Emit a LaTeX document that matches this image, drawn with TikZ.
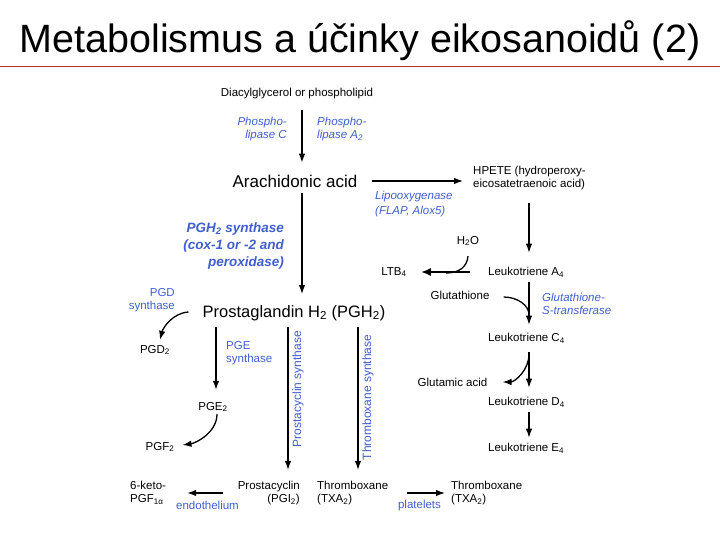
\documentclass[tikz,border=0pt]{standalone}
\usepackage{fontspec}
\setmainfont{Liberation Sans}
\usetikzlibrary{arrows.meta,calc}
\definecolor{enz}{RGB}{65,95,205}
\definecolor{rulered}{RGB}{185,45,45}
\begin{document}
\begin{tikzpicture}[x=1pt,y=-1pt,
  lbl/.style={inner sep=0pt, font=\fontsize{11.5}{13}\selectfont},
  enzy/.style={lbl, text=enz, font=\fontsize{11.5}{13}\selectfont\itshape},
  enzn/.style={lbl, text=enz},
  arr/.style={line width=1.3pt, -{Latex[length=9pt,width=6.5pt]}},
  crv/.style={line width=1.3pt},
]
\useasboundingbox (0,0) rectangle (720,540);
\fill[white] (0,0) rectangle (720,540);
\node[inner sep=0pt, anchor=base, font=\fontsize{39.5}{44}\selectfont] (title) at (360,53) {Metabolismus a účinky eikosanoidů (2)};
\draw[rulered, line width=0.9pt] (0,66) -- (720,66);

\coordinate (xa) at (302,0);
\coordinate (xl) at (529,0);
\coordinate (xe) at (216,0);
\coordinate (xp) at (288,0);
\coordinate (xt) at (358,0);

\node[lbl] (dag) at (297,94) {Diacylglycerol or phospholipid};
\node[enzy, align=right, anchor=east] (plc) at (287,129.5) {Phospho-\\lipase C};
\node[enzy, align=left, anchor=west] (pla) at (317,129.5) {Phospho-\\lipase A\textsubscript{2}};
\node[lbl, font=\fontsize{17}{20}\selectfont] (aa) at (295,181) {Arachidonic acid};
\node[lbl, align=left, anchor=west] (hpete) at (473,178) {HPETE (hydroperoxy-\\eicosatetraenoic acid)};
\node[enzy, align=left, anchor=west, font=\fontsize{11.5}{15}\selectfont\itshape] (lipo) at (375,204.5) {Lipooxygenase\\(FLAP, Alox5)};
\node[enzy, align=right, anchor=east, font=\fontsize{13.5}{17}\selectfont\bfseries\itshape] (pghs) at (284,246) {PGH\textsubscript{2} synthase\\(cox-1 or -2 and\\peroxidase)};
\node[lbl, font=\fontsize{16.5}{20}\selectfont] (pgh2) at (294,313) {Prostaglandin H\textsubscript{2} (PGH\textsubscript{2})};

\node[lbl] (h2o) at (468,241) {H\textsubscript{2}O};
\node[lbl, anchor=west] (lta4) at (488,272) {Leukotriene A\textsubscript{4}};
\node[lbl] (ltb4) at (394,272) {LTB\textsubscript{4}};
\node[lbl] (glut) at (460,295) {Glutathione};
\node[enzy, align=left, anchor=west] (gst) at (542,303.5) {Glutathione-\\S-transferase};
\node[lbl, anchor=west] (ltc4) at (488,338) {Leukotriene C\textsubscript{4}};
\node[lbl] (glu) at (452.5,382) {Glutamic acid};
\node[lbl, anchor=west] (ltd4) at (488,402) {Leukotriene D\textsubscript{4}};
\node[lbl, anchor=west] (lte4) at (488,448) {Leukotriene E\textsubscript{4}};

\node[enzn, align=right, anchor=east] (pgds) at (175,300) {PGD\\synthase};
\node[lbl] (pgd2) at (155,350) {PGD\textsubscript{2}};
\node[enzn, align=left, anchor=west] (pges) at (226,353.5) {PGE\\synthase};
\node[lbl] (pge2) at (213,407) {PGE\textsubscript{2}};
\node[lbl] (pgf2) at (160,447) {PGF\textsubscript{2}};
\node[enzn, rotate=90, font=\fontsize{12}{14}\selectfont] (pcs) at (298,389) {Prostacyclin synthase};
\node[enzn, rotate=90, font=\fontsize{12}{14}\selectfont] (txs) at (368,397.5) {Thromboxane synthase};
\node[lbl, align=right, anchor=east] (pgi2) at (300,493) {Prostacyclin\\(PGI\textsubscript{2})};
\node[lbl, align=left, anchor=west] (keto) at (130,493) {6-keto-\\PGF\textsubscript{1α}};
\node[enzn] (endo) at (207.5,505.5) {endothelium};
\node[lbl, align=left, anchor=west] (txa) at (317,493) {Thromboxane\\(TXA\textsubscript{2})};
\node[enzn] (plat) at (419.5,506) {platelets};
\node[lbl, align=left, anchor=west] (txb) at (451,493) {Thromboxane\\(TXA\textsubscript{2})};

% main vertical chain
\draw[arr, shorten <=10.6pt, shorten >=11.9pt] (dag.south -| xa) -- (aa.north -| xa);
\draw[arr, shorten <=6pt, shorten >=11pt] (aa.south -| xa) -- (pgh2.north -| xa);
\draw[arr, shorten <=14.6pt, shorten >=10pt] (aa.east) -- (aa.east -| hpete.west);
% leukotriene branch
\draw[arr, shorten <=13pt, shorten >=14pt] (hpete.south -| xl) -- (lta4.north -| xl);
\draw[arr, shorten <=5pt, shorten >=8pt] (lta4.south -| xl) -- (ltc4.north -| xl);
\draw[arr, shorten <=9pt, shorten >=9pt] (ltc4.south -| xl) -- (ltd4.north -| xl);
\draw[arr, shorten <=5pt, shorten >=5pt] (ltd4.south -| xl) -- (lte4.north -| xl);
\draw[line width=2.6pt, -{Latex[length=10pt,width=8pt]}, shorten <=18pt, shorten >=14pt] (lta4.west) -- (lta4.west -| ltb4.east);
\draw[crv] ($(h2o.south)+(0,10)$) .. controls +(-1,11) and +(13,0) .. ($(lta4.west)+(-42,1)$);
\draw[crv] ($(glut.east)+(14,2)$) .. controls +(13,0) and +(0,-10) .. ($(ltc4.north -| xl)+(0,-18)$);
\draw[arr] ($(ltc4.south -| xl)+(0,11)$) .. controls +(0,16) and +(12,0) .. ($(glu.east)+(15,0)$);
% prostaglandin branch
\draw[arr] ($(pgh2.west)+(-14,-1)$) .. controls +(-16,1) and +(3,-12) .. ($(pgd2.north)+(5,-5)$);
\draw[arr, shorten <=6pt, shorten >=12pt] (pgh2.south -| xe) -- (pge2.north -| xe);
\draw[arr] ($(pge2.south)+(4,2)$) .. controls +(0,18) and +(14,-2) .. ($(pgf2.east)+(8,-2)$);
\draw[arr, shorten <=6pt, shorten >=11pt] (pgh2.south -| xp) -- (pgi2.north -| xp);
\draw[arr, shorten <=6pt, shorten >=11pt] (pgh2.south -| xt) -- (txa.north -| xt);
\draw[arr, shorten <=15pt, shorten >=21pt] (pgi2.west) -- (pgi2.west -| keto.east);
\draw[arr, shorten <=19pt, shorten >=6pt] (txa.east) -- (txa.east -| txb.west);
\end{tikzpicture}
\end{document}
